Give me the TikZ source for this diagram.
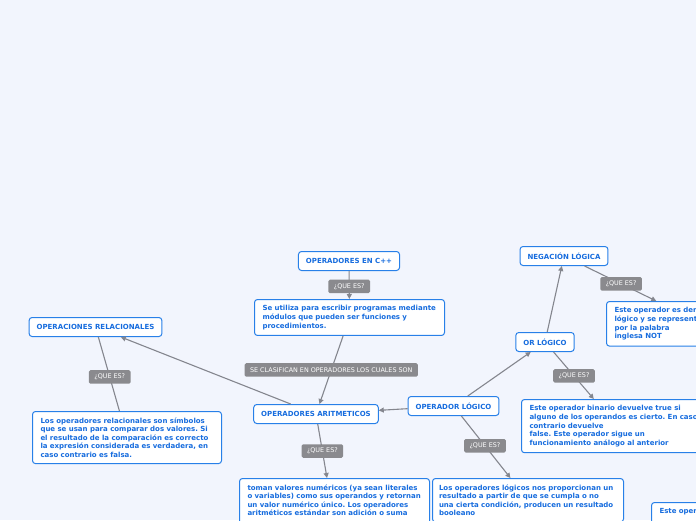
\documentclass[tikz,border=0pt]{standalone}
\usepackage{fontspec}
\setmainfont{DejaVu Sans}
\usetikzlibrary{arrows.meta}
\frenchspacing
\hyphenpenalty=10000

\definecolor{pagebg}{RGB}{242,245,253}
\definecolor{boxblue}{RGB}{40,128,232}
\definecolor{txtblue}{RGB}{22,108,222}
\definecolor{askgray}{RGB}{138,138,142}
\definecolor{linkgray}{RGB}{132,134,142}

\begin{document}
\begin{tikzpicture}[x=1pt, y=-1pt,
    topic/.style={draw=boxblue, fill=white, rounded corners=3pt, line width=1pt,
      text=txtblue, font=\fontsize{7}{8.6}\selectfont\bfseries,
      minimum height=19pt, inner xsep=7.5pt},
    note/.style={topic, align=left, text width=#1, inner xsep=8pt,
      inner ysep=6pt, anchor=north west},
    ask/.style={fill=askgray, rounded corners=1.5pt, text=white,
      font=\fontsize{6.4}{7}\selectfont, minimum height=13.5pt, inner xsep=5.5pt},
    link/.style={draw=linkgray, line width=1.1pt},
    >={Triangle[length=5pt,width=5pt]}]
  \useasboundingbox (0,0) rectangle (696,520);
  \fill[pagebg] (0,0) rectangle (696,520);

  % topics
  \node[topic] (cpp) at (349,261) {OPERADORES EN C++};
  \node[topic] (rel) at (95.5,327) {OPERACIONES RELACIONALES};
  \node[topic] (arit) at (316,414) {OPERADORES ARITMETICOS};
  \node[topic] (logico) at (453.5,406) {OPERADOR LÓGICO};
  \node[topic] (orl) at (545,342) {OR LÓGICO};
  \node[topic] (neg) at (564,256) {NEGACIÓN LÓGICA};

  % explanations
  \node[note=174pt] (utiliza) at (254,299) {Se utiliza para escribir programas mediante\\
    módulos que pueden ser funciones y\\procedimientos.};
  \node[note=173pt] (relbox) at (32,411) {Los operadores relacionales son símbolos\\
    que se usan para comparar dos valores. Si\\el resultado de la comparación es correcto\\
    la expresión considerada es verdadera, en\\caso contrario es falsa.};
  \node[note=174pt] (toman) at (239,478) {toman valores numéricos (ya sean literales\\
    o variables) como sus operandos y retornan\\un valor numérico único. Los operadores\\
    aritméticos estándar son adición o suma\\\rule{0pt}{40pt}};
  \node[note=178pt, inner xsep=6.5pt] (logbox) at (432,478) {Los operadores lógicos nos proporcionan un\\
    resultado a partir de que se cumpla o no\\una cierta condición, producen un resultado\\
    booleano};
  \node[note=175pt] (binbox) at (521,399) {Este operador binario devuelve true si\\
    alguno de los operandos es cierto. En caso\\contrario devuelve\\
    false. Este operador sigue un\\funcionamiento análogo al anterior};
  \node[note=177pt] (notbox) at (606,301) {Este operador es der\\lógico y se represent\\
    por la palabra\\inglesa NOT};
  \node[note=175pt] (extra) at (651,502) {Este oper\\\rule{0pt}{20pt}};

  % connectors
  \draw[link, ->] (cpp) -- node[ask, pos=0.55] {¿QUE ES?} (utiliza);
  \draw[link, ->] (utiliza) -- node[ask, pos=0.5] {SE CLASIFICAN EN OPERADORES LOS CUALES SON} (arit);
  \draw[link, ->] (arit) -- (rel);
  \draw[link, ->] (logico) -- (arit);
  \draw[link, ->] (arit) -- node[ask] {¿QUE ES?} ([xshift=-7.5pt]toman.north);
  \draw[link] (rel) -- node[ask, pos=0.54] {¿QUE ES?} (relbox);
  \draw[link, ->] (logico) -- (orl);
  \draw[link, ->] (logico) -- node[ask, pos=0.48] {¿QUE ES?} (logbox);
  \draw[link, ->] (orl) -- (neg);
  \draw[link, ->] (orl) -- node[ask, pos=0.51] {¿QUE ES?} (binbox);
  \draw[link, ->] (neg) -- node[ask, pos=0.51] {¿QUE ES?} (notbox);
\end{tikzpicture}
\end{document}
